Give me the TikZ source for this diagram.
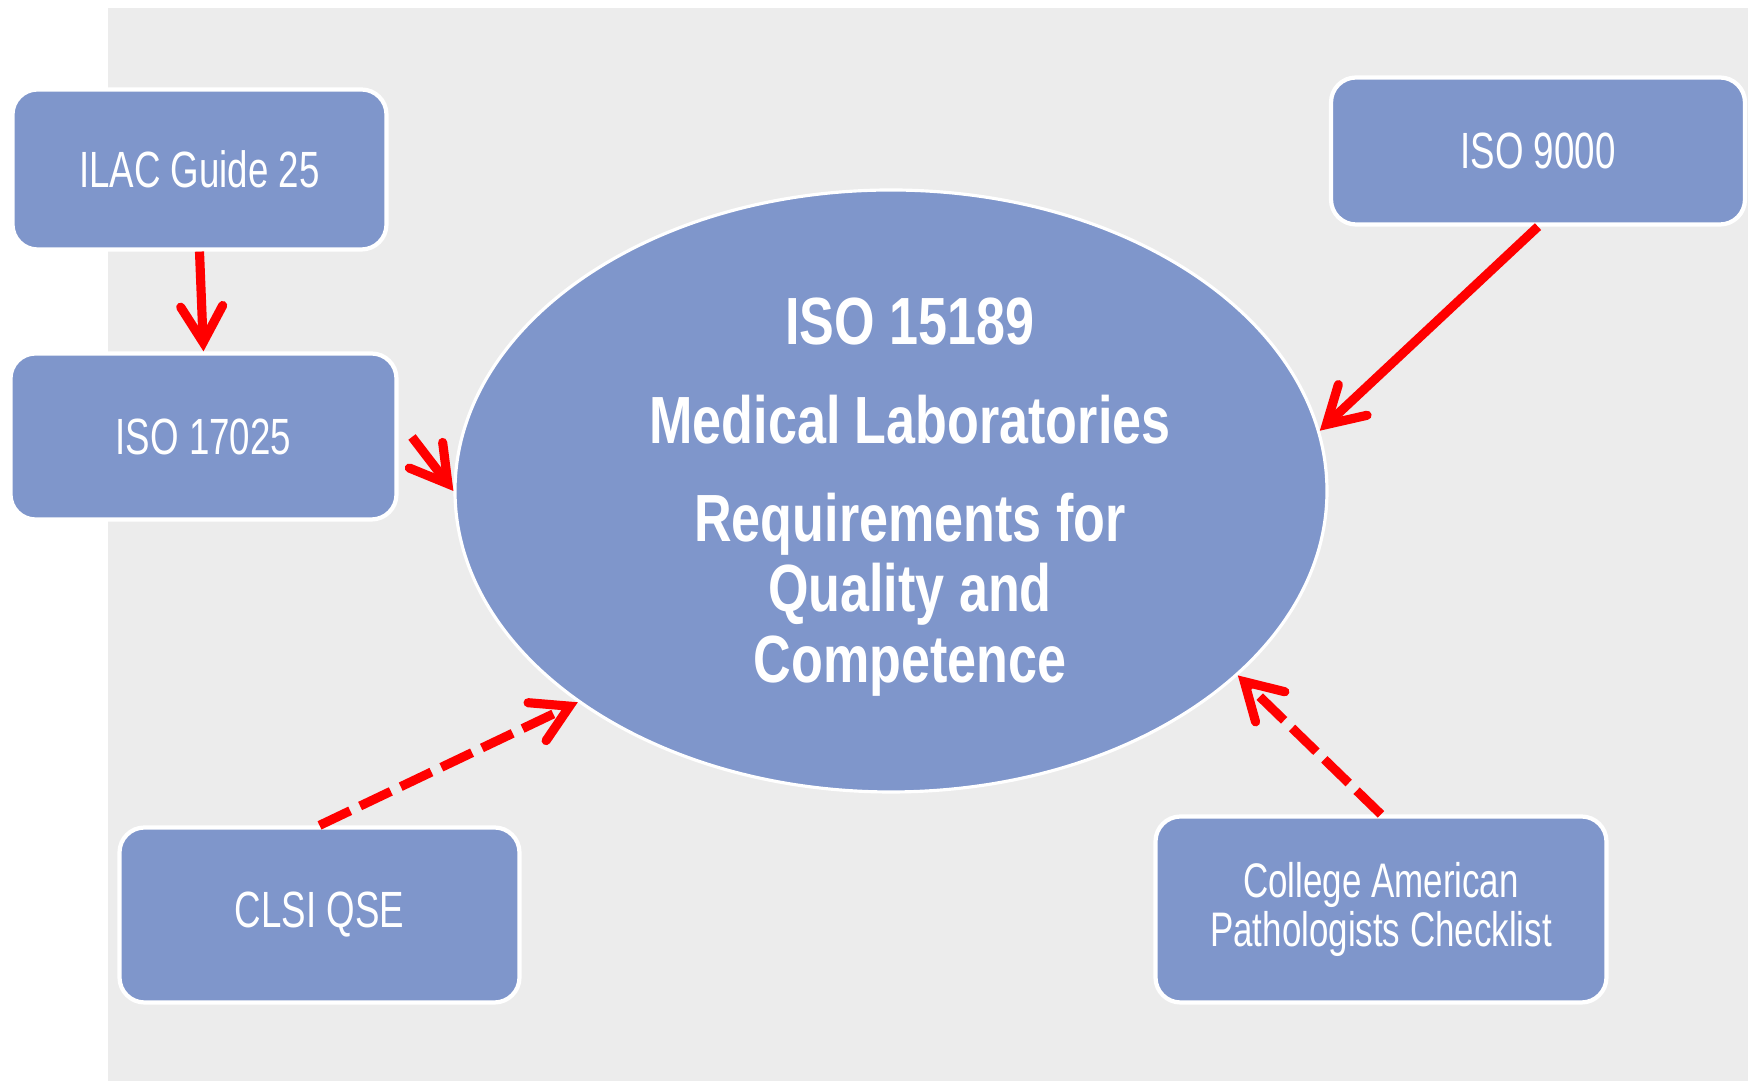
\documentclass[tikz,border=0pt]{standalone}
\usepackage{fontspec}
\setmainfont{Liberation Sans}[FakeStretch=0.72]
\newfontfamily\hubfont{Liberation Sans}[FakeStretch=0.78]
\usetikzlibrary{arrows.meta,shapes.geometric}

\definecolor{panelgray}{RGB}{236,236,236}
\definecolor{boxblue}{RGB}{127,150,203}

\tikzset{
  stdbox/.style={draw=white, line width=1.2pt, fill=boxblue, rounded corners=0.25cm,
    text=white, align=center, inner sep=0pt, font=\fontsize{14.5}{13.2}\selectfont},
  hub/.style={ellipse, draw=white, line width=0.9pt, fill=boxblue, inner sep=0pt,
    minimum width=8.72cm, minimum height=6.02cm},
  hubtext/.style={text=white, align=center, font=\hubfont\bfseries\fontsize{19}{20}\selectfont},
  link/.style={draw=red, line width=2.6pt, -{Straight Barb[length=3.6mm,width=4.2mm,line cap=round]}},
  maybe/.style={link, dash pattern=on 0.34cm off 0.11cm}
}

\begin{document}
\begin{tikzpicture}
\useasboundingbox (0,0) rectangle (17.48,-10.81);
\fill[panelgray] (1.08,-0.08) rectangle (17.48,-10.81);

\node[stdbox, minimum width=3.74cm, minimum height=1.60cm] (ilac) at (1.995,-1.695) {ILAC Guide 25};
\node[stdbox, minimum width=3.86cm, minimum height=1.66cm] (iso17025) at (2.035,-4.365) {ISO 17025};
\node[stdbox, minimum width=4.14cm, minimum height=1.47cm] (iso9000) at (15.38,-1.51) {ISO 9000};
\node[stdbox, minimum width=4.00cm, minimum height=1.75cm] (clsi) at (3.195,-9.15) {CLSI QSE};
\node[stdbox, minimum width=4.51cm, minimum height=1.86cm, font=\fontsize{13.8}{12.6}\selectfont]
  (cap) at (13.81,-9.095) {College American\\Pathologists Checklist};

\node[hub] (iso15189) at (8.91,-4.91) {};
\node[hubtext] (iso15189txt) at (9.10,-4.97) {ISO 15189\\[8pt]Medical Laboratories\\[8pt]Requirements for\\Quality and\\Competence};

\coordinate (kick) at (4.12,-4.37);

\draw[link] (ilac.south) -- (iso17025.north);
\draw[link] (kick) -- (iso15189.west);
\draw[link] (iso9000.south) -- (iso15189.8);
\draw[maybe] (clsi.north) -- (iso15189.214);
\draw[maybe] (cap.north) -- (iso15189.-28);

\end{tikzpicture}
\end{document}
